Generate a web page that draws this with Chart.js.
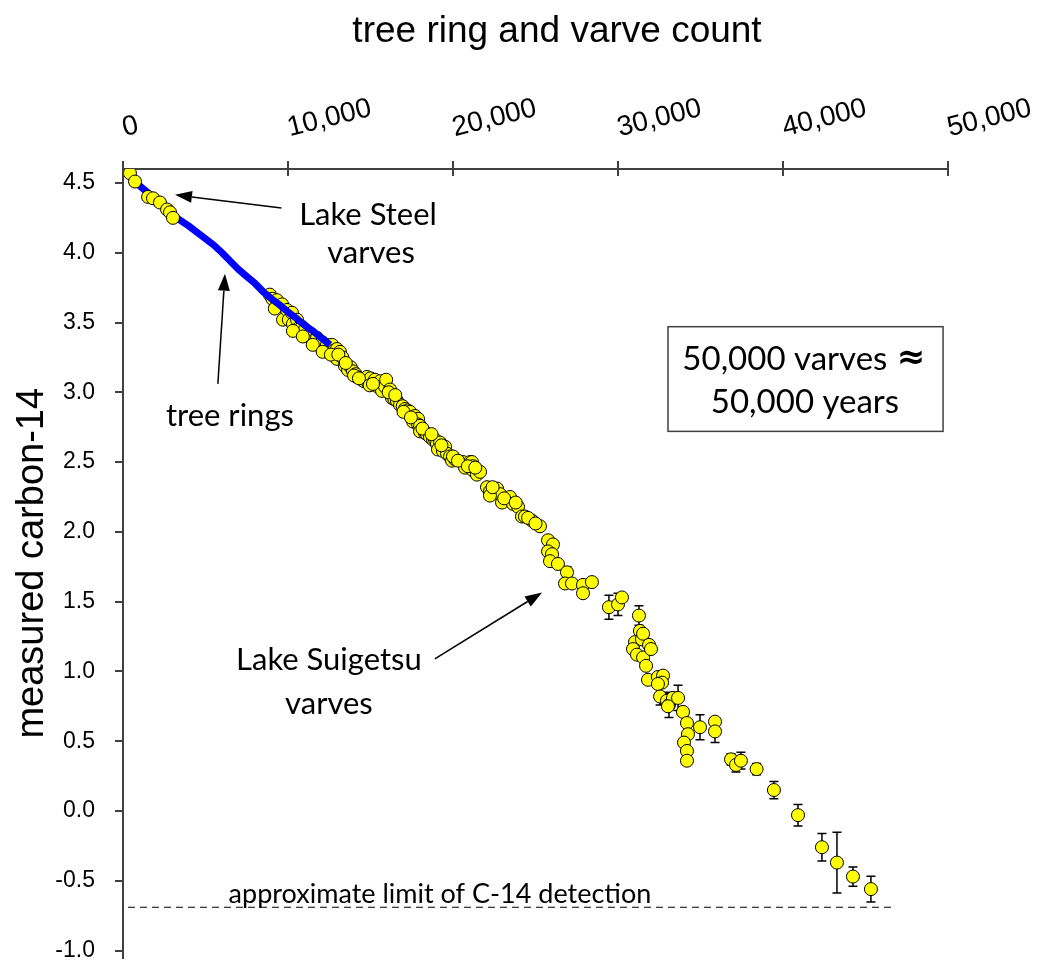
<!DOCTYPE html>
<html>
<head>
<meta charset="utf-8">
<script src="https://cdn.jsdelivr.net/npm/chart.js@4.4.1/dist/chart.umd.min.js"></script>
<style>
  html, body { margin: 0; padding: 0; background: #fff; }
  #wrap { width: 1037px; height: 965px; }
</style>
</head>
<body>
<div id="wrap"><canvas id="chart"></canvas></div>
<script>
// values

// tree rings (blue band)
const ringYears = [0, 500, 1000, 1500, 2000, 2500, 3000, 3500, 4000, 4500, 5000, 5500, 6000,
  6500, 7000, 7500, 8000, 8500, 9000, 9500, 10000, 10500, 11000, 11500, 12000, 12550];
const ringC14 = [4.59, 4.54, 4.48, 4.43, 4.38, 4.33, 4.27, 4.23, 4.19, 4.145, 4.10, 4.055, 4.00,
  3.94, 3.88, 3.83, 3.78, 3.72, 3.67, 3.625, 3.575, 3.53, 3.48, 3.44, 3.39, 3.34];

// Lake Steel varves
const steelYears = [420, 730, 1520, 1820, 2240, 2670, 2850, 3030];
const steelC14 = [4.57, 4.51, 4.40, 4.39, 4.36, 4.31, 4.29, 4.25];

// Lake Suigetsu varves (value and +/- error, 0 = no bar)
const suigetsuYears = [
  8900, 9050, 9330, 9500, 9640, 9700, 9940, 10050, 10240, 10300, 10550, 10650, 10850, 10950,
  11030, 11250, 11330, 11550, 11760, 11940, 12060, 12250, 12360, 12670, 12800, 12970, 13150,
  12970, 13300, 13450, 13640, 13800, 13940, 14100, 14180, 14480, 14600, 14790, 14850, 15000,
  15270, 15450, 15600, 15700, 15880, 15950, 16180, 16300, 16450, 16600, 16790, 16950, 17090,
  17250, 17390, 17580, 17700, 17880, 17880, 18000, 18000, 18300, 18420, 18600, 18790, 18910,
  19030, 19210, 19090, 19390, 19520, 19640, 19820, 19940, 20120, 20610, 20730, 21030, 21150,
  21210, 21210, 21450, 21640, 22060, 22240, 22670, 22850, 22240, 22970, 23450, 23640, 23940,
  24180, 24360, 24790, 25270, 25760, 26060, 25760, 26000, 25880, 26360, 26910, 26790, 27210,
  27880, 27880, 28420, 29450, 30000, 30240, 31270, 31030, 30910, 31150, 31330, 31450, 31520,
  31520, 31700, 31880, 32000, 31820, 32420, 32730, 32670, 32420, 32550, 32970, 33090, 33330,
  33640, 33030, 33940, 34180, 34240, 34000, 34180, 34180, 34970, 35880, 35880, 36850, 37150,
  37450, 38400, 39450, 40910, 42360, 43270, 44240, 45330,
  9200, 10300, 10900, 11500, 12100, 12600, 13050, 13500, 14000, 14300, 14950, 15150, 16100,
  16500, 17000, 17450, 18150, 18700, 19300, 20000, 20300, 20900, 21350, 22400, 23100, 23800,
  24550, 25000];
const suigetsuC14 = [
  3.70, 3.67, 3.66, 3.62, 3.63, 3.52, 3.59, 3.52, 3.57, 3.49, 3.52, 3.46, 3.47, 3.42,
  3.45, 3.40, 3.41, 3.37, 3.39, 3.33, 3.36, 3.31, 3.34, 3.34, 3.30, 3.31, 3.29,
  3.24, 3.25, 3.19, 3.16, 3.18, 3.15, 3.13, 3.11, 3.09, 3.08, 3.11, 3.07, 3.10,
  3.09, 3.04, 3.08, 3.01, 3.04, 3.09, 3.02, 2.96, 2.95, 2.94, 2.91, 2.90, 2.88,
  2.87, 2.86, 2.79, 2.83, 2.81, 2.77, 2.76, 2.72, 2.71, 2.70, 2.68, 2.66, 2.66,
  2.63, 2.64, 2.59, 2.58, 2.61, 2.56, 2.54, 2.51, 2.52, 2.50, 2.46, 2.50, 2.50,
  2.44, 2.47, 2.41, 2.43, 2.32, 2.29, 2.31, 2.27, 2.26, 2.21, 2.25, 2.20, 2.18,
  2.11, 2.11, 2.08, 2.04, 1.94, 1.91, 1.86, 1.84, 1.79, 1.77, 1.71, 1.63, 1.63,
  1.62, 1.56, 1.64, 1.46, 1.48, 1.53, 1.40, 1.21, 1.16, 1.12, 1.29, 1.23, 1.27,
  1.10, 1.04, 1.19, 1.16, 0.94, 0.96, 0.97, 0.92, 0.91, 0.82, 0.79, 0.76, 0.81,
  0.81, 0.75, 0.71, 0.63, 0.55, 0.49, 0.43, 0.36, 0.60, 0.64, 0.57, 0.37, 0.33,
  0.36, 0.30, 0.15, -0.03, -0.26, -0.37, -0.47, -0.56,
  3.60, 3.44, 3.40, 3.34, 3.29, 3.27, 3.27, 3.21, 3.12, 3.10, 3.05, 3.06, 3.00,
  2.98, 2.86, 2.82, 2.74, 2.70, 2.62, 2.54, 2.51, 2.47, 2.46, 2.32, 2.24, 2.21,
  2.10, 2.06];
const suigetsuErr = [
  0, 0, 0, 0, 0, 0, 0, 0, 0, 0, 0, 0, 0, 0,
  0, 0, 0, 0, 0, 0, 0, 0, 0, 0, 0, 0, 0,
  0, 0, 0, 0, 0, 0, 0, 0, 0, 0, 0, 0, 0,
  0, 0, 0, 0, 0, 0, 0, 0, 0, 0, 0, 0, 0,
  0, 0, 0, 0, 0, 0, 0, 0, 0, 0, 0, 0, 0,
  0, 0, 0, 0, 0, 0, 0, 0, 0, 0, 0, 0, 0,
  0, 0, 0, 0, 0.03, 0.03, 0, 0.03, 0, 0, 0.03, 0, 0.03,
  0, 0.03, 0, 0, 0.03, 0, 0, 0.03, 0, 0.03, 0.04, 0, 0,
  0, 0, 0, 0.086, 0.08, 0, 0.07, 0, 0, 0, 0, 0, 0,
  0, 0, 0, 0, 0, 0, 0, 0, 0, 0.06, 0.05, 0.09, 0,
  0.09, 0, 0, 0, 0, 0, 0, 0, 0.09, 0, 0.08, 0.04, 0.05,
  0.06, 0.04, 0.062, 0.077, 0.099, 0.217, 0.069, 0.093,
  0, 0, 0, 0, 0, 0, 0, 0, 0, 0, 0, 0, 0,
  0, 0, 0, 0, 0, 0, 0, 0, 0, 0, 0, 0.03, 0,
  0, 0];

// approximate limit of C-14 detection
const limitYears = [300, 46700];
const limitC14 = [-0.69, -0.69];

const xTicks = [0, 10000, 20000, 30000, 40000, 50000];
const yTicks = [-1.0, -0.5, 0.0, 0.5, 1.0, 1.5, 2.0, 2.5, 3.0, 3.5, 4.0, 4.5];

const toPoints = (xs, ys) => xs.map((x, i) => ({ x: x, y: ys[i] }));

const axisColor = '#404040';
const arial = '"Liberation Sans", Arial, sans-serif';
const noteFont = '"Lato", "Open Sans", sans-serif';

// arrows, labels, error bars and the text box
const notesPlugin = {
  id: 'notes',
  beforeDatasetsDraw(chart) {
    const ctx = chart.ctx;
    const xs = chart.scales.x, ys = chart.scales.y;
    ctx.save();
    ctx.strokeStyle = '#000';
    ctx.lineWidth = 1.5;
    suigetsuErr.forEach((e, i) => {
      if (!e) return;
      const px = xs.getPixelForValue(suigetsuYears[i]);
      const top = ys.getPixelForValue(suigetsuC14[i] + e);
      const bot = ys.getPixelForValue(suigetsuC14[i] - e);
      ctx.beginPath();
      ctx.moveTo(px, top); ctx.lineTo(px, bot);
      ctx.moveTo(px - 4.5, top); ctx.lineTo(px + 4.5, top);
      ctx.moveTo(px - 4.5, bot); ctx.lineTo(px + 4.5, bot);
      ctx.stroke();
    });
    ctx.restore();
  },
  afterDraw(chart) {
    const ctx = chart.ctx;
    const xs = chart.scales.x, ys = chart.scales.y;
    const P = (x, y) => [xs.getPixelForValue(x), ys.getPixelForValue(y)];
    ctx.save();

    // x ticks cross the axis line
    ctx.strokeStyle = axisColor;
    ctx.lineWidth = 2;
    xTicks.forEach(v => {
      const px = xs.getPixelForValue(v);
      ctx.beginPath();
      ctx.moveTo(px, chart.chartArea.top);
      ctx.lineTo(px, chart.chartArea.top + 7);
      ctx.stroke();
    });

    // main title
    ctx.fillStyle = '#000';
    ctx.font = '37px ' + arial;
    ctx.textAlign = 'center';
    ctx.textBaseline = 'middle';
    ctx.fillText('tree ring and varve count', 557, 32);

    // arrows
    const arrows = [
      { from: [9600, 4.32], to: [3150, 4.415] },
      { from: [5750, 3.06], to: [6180, 3.85] },
      { from: [18900, 1.09], to: [25400, 1.565] }
    ];
    arrows.forEach(a => {
      const [x1, y1] = P(a.from[0], a.from[1]);
      const [x2, y2] = P(a.to[0], a.to[1]);
      const ang = Math.atan2(y2 - y1, x2 - x1);
      const len = 17, hw = 6;
      const bx = x2 - len * Math.cos(ang), by = y2 - len * Math.sin(ang);
      ctx.strokeStyle = '#000';
      ctx.lineWidth = 1.5;
      ctx.beginPath();
      ctx.moveTo(x1, y1); ctx.lineTo(bx, by);
      ctx.stroke();
      ctx.fillStyle = '#000';
      ctx.beginPath();
      ctx.moveTo(x2, y2);
      ctx.lineTo(bx + hw * Math.sin(ang), by - hw * Math.cos(ang));
      ctx.lineTo(bx - hw * Math.sin(ang), by + hw * Math.cos(ang));
      ctx.closePath();
      ctx.fill();
    });

    // labels
    ctx.font = '31px ' + noteFont;
    const labels = [
      { text: 'Lake Steel', at: [14850, 4.27] },
      { text: 'varves', at: [15030, 4.0] },
      { text: 'tree rings', at: [6480, 2.83] },
      { text: 'Lake Suigetsu', at: [12480, 1.08] },
      { text: 'varves', at: [12480, 0.77] }
    ];
    labels.forEach(l => {
      const [px, py] = P(l.at[0], l.at[1]);
      ctx.fillText(l.text, px, py);
    });

    // boxed statement
    const [bx1, by1] = P(33030, 3.47);
    const [bx2, by2] = P(49700, 2.72);
    ctx.strokeStyle = '#404040';
    ctx.lineWidth = 1.5;
    ctx.strokeRect(bx1, by1, bx2 - bx1, by2 - by1);
    ctx.font = '33px ' + noteFont;
    ctx.textAlign = 'left';
    let [tx, ty] = P(33900, 3.236);
    ctx.fillText('50,000 varves', tx, ty);
    ctx.textAlign = 'center';
    ctx.font = 'bold 34px "DejaVu Sans", sans-serif';
    [tx, ty] = P(47760, 3.236);
    ctx.fillText('\u2248', tx, ty);
    ctx.font = '33px ' + noteFont;
    [tx, ty] = P(41330, 2.93);
    ctx.fillText('50,000 years', tx, ty);

    // detection limit label
    ctx.font = '27px ' + noteFont;
    [tx, ty] = P(19210, -0.60);
    ctx.fillText('approximate limit of C-14 detection', tx, ty);

    ctx.restore();
  }
};

new Chart(document.getElementById('chart'), {
  type: 'scatter',
  data: {
    datasets: [
      {
        label: 'Lake Steel varves',
        data: toPoints(steelYears, steelC14),
        backgroundColor: '#FFFF00',
        borderColor: '#000',
        borderWidth: 1,
        pointRadius: 6.5
      },
      {
        label: 'tree rings',
        data: toPoints(ringYears, ringC14),
        showLine: true,
        borderColor: '#0000FF',
        borderWidth: 7,
        tension: 0,
        pointRadius: ctx => ctx.dataIndex === 0 ? 3.5 : 0,
        pointBackgroundColor: '#fff',
        pointBorderColor: '#0000FF',
        pointBorderWidth: 1.5
      },
      {
        label: 'Lake Suigetsu varves',
        data: toPoints(suigetsuYears, suigetsuC14),
        backgroundColor: '#FFFF00',
        borderColor: '#000',
        borderWidth: 1,
        pointRadius: 6.5
      },
      {
        label: 'limit',
        data: toPoints(limitYears, limitC14),
        showLine: true,
        borderColor: '#000',
        borderWidth: 1.2,
        borderDash: [7, 5],
        pointRadius: 0
      }
    ]
  },
  options: {
    responsive: true,
    maintainAspectRatio: false,
    animation: false,
    layout: { padding: { left: 0, right: 89, top: 0, bottom: 5 } },
    plugins: {
      legend: { display: false },
      tooltip: { enabled: false }
    },
    scales: {
      x: {
        type: 'linear',
        position: 'top',
        min: 0,
        max: 50000,
        afterBuildTicks: s => { s.ticks = xTicks.map(v => ({ value: v })); },
        afterFit: s => { s.height = 169; s.paddingLeft = 0; s.paddingRight = 0; },
        ticks: {
          color: '#000',
          font: { family: arial, size: 28 },
          minRotation: 14,
          maxRotation: 14,
          padding: 16,
          labelOffset: 8,
          callback: v => v.toLocaleString('en-US')
        },
        grid: { drawOnChartArea: false, tickLength: 8, color: axisColor, lineWidth: 2 },
        border: { color: axisColor, width: 2 }
      },
      y: {
        type: 'linear',
        min: -1.05,
        max: 4.6,
        afterBuildTicks: s => { s.ticks = yTicks.map(v => ({ value: v })); },
        afterFit: s => { s.width = 123; s.paddingTop = 0; s.paddingBottom = 0; },
        ticks: {
          color: '#000',
          font: { family: arial, size: 23 },
          padding: 20,
          callback: v => v.toFixed(1)
        },
        title: {
          display: true,
          text: 'measured carbon-14',
          color: '#000',
          font: { family: arial, size: 38 },
          padding: { top: 10, bottom: 0 }
        },
        grid: { drawOnChartArea: false, tickLength: 8, color: axisColor, lineWidth: 2 },
        border: { color: axisColor, width: 2 }
      }
    }
  },
  plugins: [notesPlugin]
});
</script>
</body>
</html>
